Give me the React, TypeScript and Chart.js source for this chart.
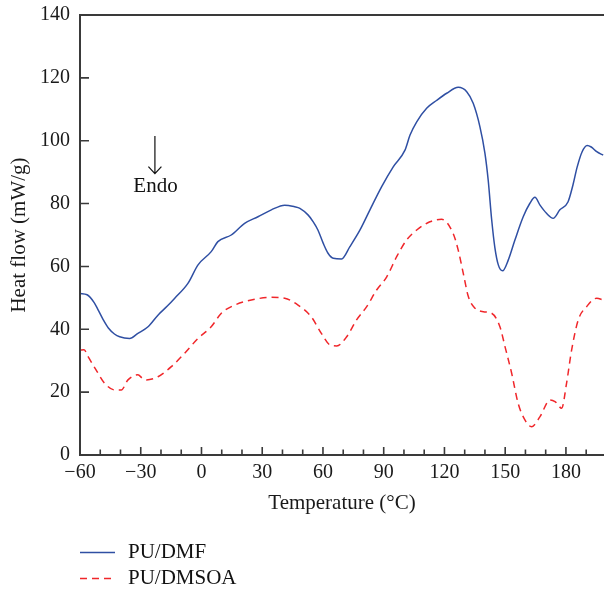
import React, { useEffect, useRef } from 'react';
import { Chart, registerables } from 'chart.js';

Chart.register(...registerables);

const FONT = '"Liberation Serif", "Times New Roman", serif';

const xTitle = 'Temperature (°C)';
const yTitle = 'Heat flow (mW/g)';
const seriesLabels = ['PU/DMF', 'PU/DMSOA'];
const annotationText = 'Endo';

const blueT = [-60, -56.5, -53, -51, -48.5, -46, -43, -40.4, -35.5, -31.4, -26.4, -21.5, -17, -13.2, -6.7, -1.7, 4.8, 8.1, 14.7, 21.3, 27.9, 34.5, 41.1, 46, 48.6, 52.6, 55.2, 57.5, 60.1, 62.5, 65.1, 69.2, 73.3, 78.3, 83.2, 89, 94.7, 100.5, 103, 106.3, 111.2, 116.1, 121.1, 126.8, 131, 134.2, 137.5, 140, 141.6, 143.3, 144.9, 146.6, 148.7, 151.5, 154.8, 158.9, 162.2, 164.7, 167.2, 170.4, 173.7, 177, 181, 183.5, 185.5, 188, 190.5, 192.5, 195.2, 198.4];
const blueV = [51.4, 51.0, 48.5, 46.1, 43.0, 40.4, 38.5, 37.6, 37.1, 38.7, 40.8, 44.5, 47.3, 49.9, 54.6, 60.5, 64.7, 67.9, 70.0, 73.7, 75.8, 78.0, 79.5, 79.0, 78.5, 76.4, 74.2, 71.6, 67.4, 64.2, 62.6, 62.4, 66.3, 71.6, 78.0, 85.4, 91.7, 97.0, 101.8, 106.0, 110.3, 112.8, 115.1, 117.0, 115.6, 111.9, 104.5, 96.0, 87.5, 75.0, 66.0, 60.5, 58.6, 62.0, 68.4, 75.8, 80.1, 82.0, 79.5, 76.9, 75.3, 78.0, 80.5, 86.0, 91.5, 96.5, 98.5, 98.0, 96.5, 95.4];

const redT = [-60, -58, -56, -52, -47.8, -42.9, -39.6, -36.3, -31.4, -29, -27.2, -21.5, -14.9, -8.3, -1.7, 4.8, 9.8, 16.4, 24.6, 34.5, 41.1, 47.7, 54.2, 59.2, 63.5, 66.8, 71.7, 76.6, 81.6, 86.5, 91.5, 96.4, 101.3, 106.3, 112.8, 118.6, 124.3, 126.8, 129.3, 131.8, 135.1, 139.2, 143.3, 147.4, 149.9, 153.2, 156.4, 159.8, 163, 167.2, 172.1, 174.6, 177.9, 180.3, 182.8, 186.1, 190.2, 195.2, 198.4];
const redV = [33.4, 33.5, 31.3, 27.0, 22.8, 20.7, 20.7, 23.9, 25.5, 24.3, 23.9, 24.9, 28.1, 32.4, 37.1, 40.8, 45.1, 47.7, 49.3, 50.2, 49.9, 47.7, 44.0, 38.7, 35.0, 34.7, 37.6, 43.0, 47.2, 52.5, 56.7, 63.1, 68.4, 71.6, 74.2, 75.0, 70.5, 65.2, 57.8, 50.4, 46.7, 45.6, 45.1, 40.8, 34.5, 26.0, 16.4, 11.1, 9.0, 12.2, 17.5, 17.0, 14.9, 22.8, 33.4, 43.0, 47.2, 49.9, 49.3];

const xMin = -60;
const xMax = 198.8;
const yMin = 0;
const yMax = 140;

const fmt = (v: number) => (v < 0 ? '\u2212' + Math.abs(v) : String(v));

const decorPlugin = {
  id: 'decor',
  afterDraw(chart: any) {
    const { ctx, chartArea, scales } = chart;
    const xs = scales.x;
    const ys = scales.y;
    ctx.save();
    // axes frame
    ctx.strokeStyle = '#3a3a3a';
    ctx.lineWidth = 2;
    ctx.beginPath();
    ctx.moveTo(chartArea.right + 2, chartArea.top);
    ctx.lineTo(chartArea.left, chartArea.top);
    ctx.lineTo(chartArea.left, chartArea.bottom);
    ctx.lineTo(chartArea.right + 2, chartArea.bottom);
    ctx.stroke();
    // inward ticks
    ctx.lineWidth = 1.6;
    ctx.beginPath();
    xs.ticks.forEach((t: any) => {
      const px = xs.getPixelForValue(t.value);
      const len = t.value % 30 === 0 ? 8 : 5.5;
      ctx.moveTo(px, chartArea.bottom);
      ctx.lineTo(px, chartArea.bottom - len);
    });
    ys.ticks.forEach((t: any) => {
      const py = ys.getPixelForValue(t.value);
      ctx.moveTo(chartArea.left, py);
      ctx.lineTo(chartArea.left + 9, py);
    });
    ctx.stroke();

    // Endo annotation
    const ax = xs.getPixelForValue(-23);
    const ay1 = ys.getPixelForValue(101.5);
    const ay2 = ys.getPixelForValue(89.5);
    ctx.strokeStyle = '#111';
    ctx.lineWidth = 1.2;
    ctx.beginPath();
    ctx.moveTo(ax, ay1);
    ctx.lineTo(ax, ay2);
    ctx.moveTo(ax - 6.5, ay2 - 7);
    ctx.lineTo(ax, ay2);
    ctx.lineTo(ax + 6.5, ay2 - 7);
    ctx.stroke();
    ctx.fillStyle = '#111';
    ctx.font = '21px ' + FONT;
    ctx.textAlign = 'center';
    ctx.textBaseline = 'middle';
    ctx.fillText(annotationText, xs.getPixelForValue(-22.7), ys.getPixelForValue(85.4));

    // legend
    const lx = chartArea.left;
    const rows = [552.5, 578.5];
    chart.data.datasets.forEach((ds: any, i: number) => {
      const y = rows[i];
      ctx.strokeStyle = ds.borderColor;
      ctx.lineWidth = ds.borderWidth;
      ctx.setLineDash(ds.borderDash || []);
      ctx.beginPath();
      ctx.moveTo(lx, y);
      ctx.lineTo(lx + 35, y);
      ctx.stroke();
      ctx.setLineDash([]);
      ctx.fillStyle = '#111';
      ctx.textAlign = 'left';
      ctx.fillText(ds.label, lx + 48, y);
    });
    ctx.restore();
  },
};

export default function App() {
  const ref = useRef<HTMLCanvasElement | null>(null);
  useEffect(() => {
    if (!ref.current) return;
    const chart = new Chart(ref.current, {
      type: 'line',
      data: {
        datasets: [
          {
            label: seriesLabels[0],
            data: blueT.map((t, i) => ({ x: t, y: blueV[i] })),
            borderColor: '#2f4fa3',
            borderWidth: 1.5,
            pointRadius: 0,
            cubicInterpolationMode: 'monotone',
            fill: false,
          },
          {
            label: seriesLabels[1],
            data: redT.map((t, i) => ({ x: t, y: redV[i] })),
            borderColor: '#f0262a',
            borderWidth: 1.5,
            borderDash: [7, 5],
            pointRadius: 0,
            cubicInterpolationMode: 'monotone',
            fill: false,
          },
        ],
      },
      options: {
        responsive: false,
        animation: false,
        devicePixelRatio: 1,
        layout: { padding: { top: 15, left: 0, right: 0, bottom: 75 } },
        plugins: { legend: { display: false }, tooltip: { enabled: false } },
        scales: {
          x: {
            type: 'linear',
            min: xMin,
            max: xMax,
            grid: { display: false, drawTicks: false },
            border: { display: false },
            afterFit: (s: any) => { s.height = 61; s.paddingRight = 0; },
            ticks: {
              stepSize: 10,
              includeBounds: false,
              autoSkip: false,
              maxRotation: 0,
              padding: 6,
              color: '#1a1a1a',
              font: { family: FONT, size: 20 },
              callback: (v: any) => (Number(v) % 30 === 0 ? fmt(Number(v)) : ''),
            },
            title: {
              display: true,
              text: xTitle,
              color: '#1a1a1a',
              font: { family: FONT, size: 21 },
              padding: { top: 0, bottom: 0 },
            },
          },
          y: {
            type: 'linear',
            min: yMin,
            max: yMax,
            grid: { display: false, drawTicks: false },
            border: { display: false },
            afterFit: (s: any) => { s.width = 80; s.paddingTop = 10; s.paddingBottom = 10; },
            ticks: {
              stepSize: 20,
              padding: 10,
              color: '#1a1a1a',
              font: { family: FONT, size: 20 },
              callback: (v: any) => fmt(Number(v)),
            },
            title: {
              display: true,
              text: yTitle,
              color: '#1a1a1a',
              font: { family: FONT, size: 21 },
              padding: { top: 7, bottom: 0 },
            },
          },
        },
      },
      plugins: [decorPlugin],
    } as any);
    return () => chart.destroy();
  }, []);
  return (
    <canvas
      ref={ref}
      width={604}
      height={591}
      style={{ position: 'absolute', left: 0, top: 0, width: 604, height: 591, display: 'block' }}
    />
  );
}
